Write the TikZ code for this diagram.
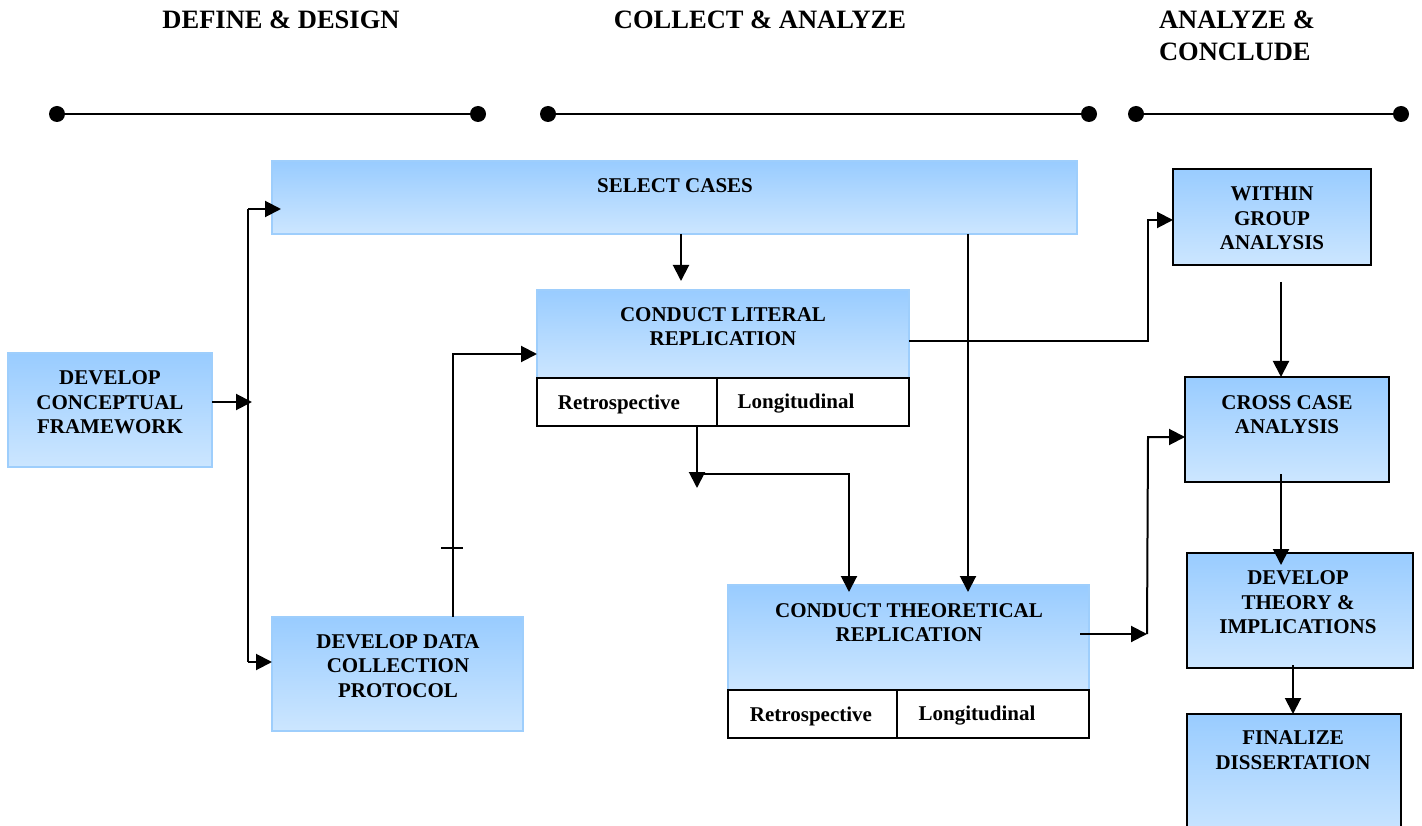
\documentclass[tikz,border=0pt]{standalone}
\usepackage{fontspec}
\setmainfont{Liberation Serif}
\usetikzlibrary{arrows.meta}
\definecolor{boxtop}{RGB}{153,204,255}
\definecolor{boxbot}{RGB}{204,230,255}
\definecolor{boxedge}{RGB}{158,206,252}
\newcommand\labelfont{\fontsize{21}{24.5}\selectfont\bfseries}
\newcommand\headfont{\fontsize{26.5}{32}\selectfont\bfseries}

\begin{document}
\begin{tikzpicture}[x=1pt,y=-1pt,
  every node/.style={outer sep=0pt, inner sep=0pt},
  shaded/.style={top color=boxtop, bottom color=boxbot},
  bluebox/.style={shaded, draw=boxedge, line width=2pt},
  blackbox/.style={shaded, draw=black, line width=2.4pt},
  cell/.style={draw=black, fill=white, line width=2pt},
  lbl/.style={font=\labelfont, align=center},
  head/.style={font=\headfont},
  arr/.style={line width=2pt, -{Triangle[length=16pt,width=16pt]}},
  conn/.style={line width=2pt},
  dot/.style={circle, fill=black, minimum size=16pt},
  bar/.style={line width=2pt}
]
\useasboundingbox (0,0) rectangle (1422,826);
\clip (0,0) rectangle (1422,826);

% ---------- phase headings and timelines ----------
\node[head] (h1) at (281,20) {DEFINE \& DESIGN};
\node[head] (h2) at (760,20) {COLLECT \& ANALYZE};
\node[head, align=left, anchor=west] (h3) at (1159,36) {ANALYZE \&\\CONCLUDE};

\node[dot] (t1a) at (57,114) {};
\node[dot] (t1b) at (478,114) {};
\node[dot] (t2a) at (548,114) {};
\node[dot] (t2b) at (1089,114) {};
\node[dot] (t3a) at (1136,114) {};
\node[dot] (t3b) at (1401,114) {};
\draw[bar] (t1a) -- (t1b);
\draw[bar] (t2a) -- (t2b);
\draw[bar] (t3a) -- (t3b);

% ---------- boxes ----------
\node[bluebox, minimum width=204pt, minimum height=114pt] (cf) at (110,410) {};
\node[lbl] (cf-t) at (110,402.5) {DEVELOP\\CONCEPTUAL\\FRAMEWORK};

\node[bluebox, minimum width=805pt, minimum height=73pt] (select) at (674.5,197.5) {};
\node[lbl] (select-t) at (675,186) {SELECT CASES};

\node[bluebox, minimum width=372pt, minimum height=88pt] (lit) at (723,334) {};
\node[lbl] (lit-t) at (723,326.5) {CONDUCT LITERAL\\REPLICATION};
\node[cell, minimum width=180pt, minimum height=48pt] (litR) at (627,402) {};
\node[cell, minimum width=192pt, minimum height=48pt] (litL) at (813,402) {};
\node[lbl] (litR-t) at (619,404) {Retrospective};
\node[lbl] (litL-t) at (796,404) {Longitudinal};

\node[bluebox, minimum width=251pt, minimum height=114pt] (dcp) at (397.5,674) {};
\node[lbl] (dcp-t) at (398,666) {DEVELOP DATA\\COLLECTION\\PROTOCOL};

\node[bluebox, minimum width=361pt, minimum height=105pt] (th) at (908.5,637.5) {};
\node[lbl] (th-t) at (909,622.5) {CONDUCT THEORETICAL\\REPLICATION};
\node[cell, minimum width=169pt, minimum height=48pt] (thR) at (812.5,714) {};
\node[cell, minimum width=192pt, minimum height=48pt] (thL) at (993,714) {};
\node[lbl] (thR-t) at (811,716) {Retrospective};
\node[lbl] (thL-t) at (977,716) {Longitudinal};

\node[blackbox, minimum width=198pt, minimum height=96pt] (within) at (1272,217) {};
\node[lbl] (within-t) at (1272,218.5) {WITHIN\\GROUP\\ANALYSIS};

\node[blackbox, minimum width=204pt, minimum height=105pt] (cross) at (1287,429.5) {};
\node[lbl] (cross-t) at (1287,414.5) {CROSS CASE\\ANALYSIS};

\node[blackbox, minimum width=226pt, minimum height=115pt] (theory) at (1300,610.5) {};
\node[lbl] (theory-t) at (1298,602.5) {DEVELOP\\THEORY \&\\IMPLICATIONS};

\node[blackbox, minimum width=214pt, minimum height=126pt] (fin) at (1294,777) {};
\node[lbl] (fin-t) at (1293,750) {FINALIZE\\DISSERTATION};

% ---------- junction points ----------
\coordinate (spineTop) at (248,209);
\coordinate (spineBot) at (248,662);
\coordinate (spineIn) at (252,402);
\coordinate (scIn) at (281,209);
\coordinate (dcpOut) at (453,617);
\coordinate (dcpBend) at (453,354);
\coordinate (scA) at (681,281);
\coordinate (thA) at (968,592);
\coordinate (litOut) at (909,341);
\coordinate (bendW) at (1148,220);
\coordinate (rdA) at (697,488);
\coordinate (brA) at (697,474);
\coordinate (thB) at (849,592);
\coordinate (thOut) at (1080,634);
\coordinate (tcA) at (1147,634);
\coordinate (tcB) at (1148,437);
\coordinate (wcA) at (1281,282);
\coordinate (ctA) at (1281,474);
\coordinate (ctB) at (1281,565);
\coordinate (tfA) at (1293,665);

% ---------- connectors ----------
\draw[conn] (spineTop) -- (spineBot);
\draw[arr] (cf.east |- spineIn) -- (spineIn);
\draw[arr] (spineTop) -- (scIn);
\draw[arr] (spineBot) -- (spineBot -| dcp.west);

\draw[arr] (dcpOut) -- (dcpBend) -- (dcpBend -| lit.west);
\draw[bar] (441,548) -- (463,548);

\draw[arr] (select.south -| scA) -- (scA);
\draw[arr] (select.south -| thA) -- (thA);

\draw[arr] (litOut) -| (bendW) -- (bendW -| within.west);

\draw[arr] (litR.south -| rdA) -- (rdA);
\draw[arr] (brA) -| (thB);

\draw[arr] (thOut) -- (tcA);
\draw[arr] (tcA) -- (tcB) -- (tcB -| cross.west);

\draw[arr] (wcA) -- (wcA |- cross.north);
\draw[arr] (ctA) -- (ctB);
\draw[arr] (tfA) -- (tfA |- fin.north);
\end{tikzpicture}
\end{document}
